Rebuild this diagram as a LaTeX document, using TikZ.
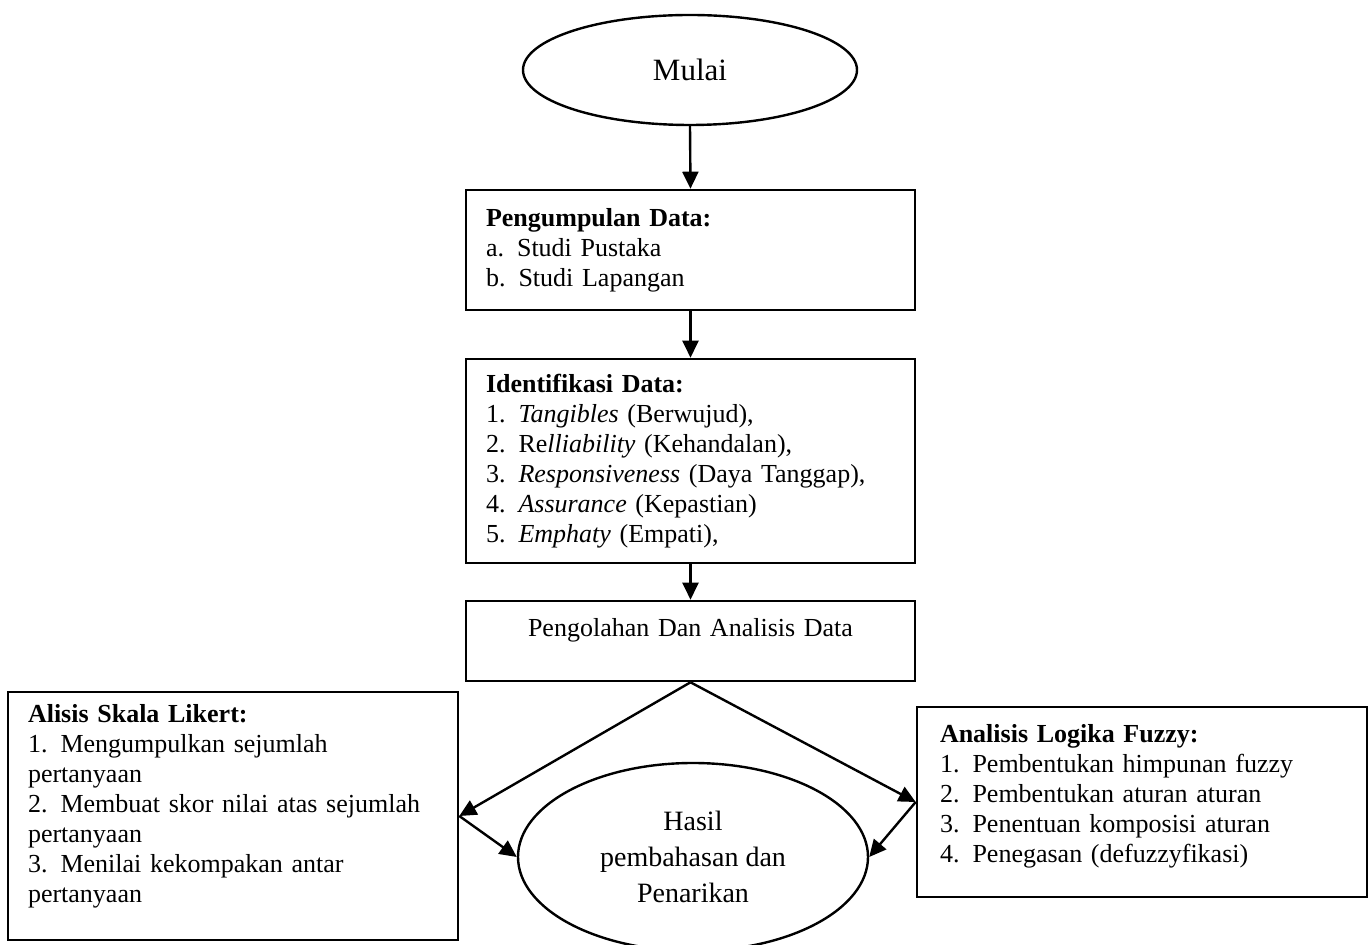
\documentclass[tikz,border=0pt]{standalone}
\usepackage{fontspec}
\setmainfont{Liberation Serif}
\usetikzlibrary{arrows.meta,shapes.geometric}
\tikzset{
  startend/.style={ellipse,draw,line width=1.2pt,inner sep=0pt},
  procbox/.style={rectangle,draw,line width=1.3pt,inner xsep=10pt,inner ysep=3pt,font=\fontsize{13}{15}\selectfont},
  flowarrow/.style={line width=1.2pt,-{Triangle[length=8.5pt,width=8pt]}}
}

\begin{document}
\begin{tikzpicture}[x=0.5pt,y=-0.5pt]
  \useasboundingbox (0,0) rectangle (1372,945);
  % main column
  \node[startend,minimum width=167pt,minimum height=55pt,font=\fontsize{15.5}{18}\selectfont] (mulai) at (690,70) {Mulai};
  \node[procbox,text width=204.5pt,align=left,minimum height=60pt] (kumpul) at (690.5,250)
    {\textbf{Pengumpulan Data:}\\a. Studi Pustaka\\b. Studi Lapangan};
  \node[procbox,text width=204.5pt,align=left,minimum height=102pt] (identif) at (690.5,461)
    {\textbf{Identifikasi Data:}\\
     1. \textit{Tangibles} (Berwujud),\\
     2. Re\textit{lliability} (Kehandalan),\\
     3. \textit{Responsiveness} (Daya Tanggap),\\
     4. \textit{Assurance} (Kepastian)\\
     5. \textit{Emphaty} (Empati),};
  \node[procbox,text width=204.5pt,align=center,minimum height=40pt,text depth=14pt] (olah) at (690.5,641)
    {Pengolahan Dan Analisis Data};
  % two analyses and the result
  \node[procbox,text width=205pt,align=left,minimum height=124pt,text depth=103pt] (likert) at (233,816)
    {\textbf{Alisis Skala Likert:}\\
     1. Mengumpulkan sejumlah\\
     pertanyaan\\
     2. Membuat skor nilai atas sejumlah\\
     pertanyaan\\
     3. Menilai kekompakan antar\\
     pertanyaan};
  \node[procbox,inner xsep=11.5pt,text width=202pt,align=left,minimum height=95pt,text depth=69pt] (fuzzy) at (1142,802)
    {\textbf{Analisis Logika Fuzzy:}\\
     1. Pembentukan himpunan fuzzy\\
     2. Pembentukan aturan aturan\\
     3. Penentuan komposisi aturan\\
     4. Penegasan (defuzzyfikasi)};
  \node[startend,minimum width=175pt,minimum height=94pt,align=center,font=\fontsize{14}{18}\selectfont] (hasil) at (693,857)
    {Hasil\\pembahasan dan\\Penarikan};
  % connectors
  \draw[flowarrow] (mulai.south) -- (kumpul.north);
  \draw[flowarrow] (kumpul) -- (identif);
  \draw[flowarrow] (identif) -- (olah);
  \draw[flowarrow] (olah.south) -- (likert.east);
  \draw[flowarrow] (olah.south) -- (fuzzy.west);
  \draw[flowarrow] (likert.east) -- (hasil.west);
  \draw[flowarrow] (fuzzy.west) -- (hasil.east);
\end{tikzpicture}
\end{document}
